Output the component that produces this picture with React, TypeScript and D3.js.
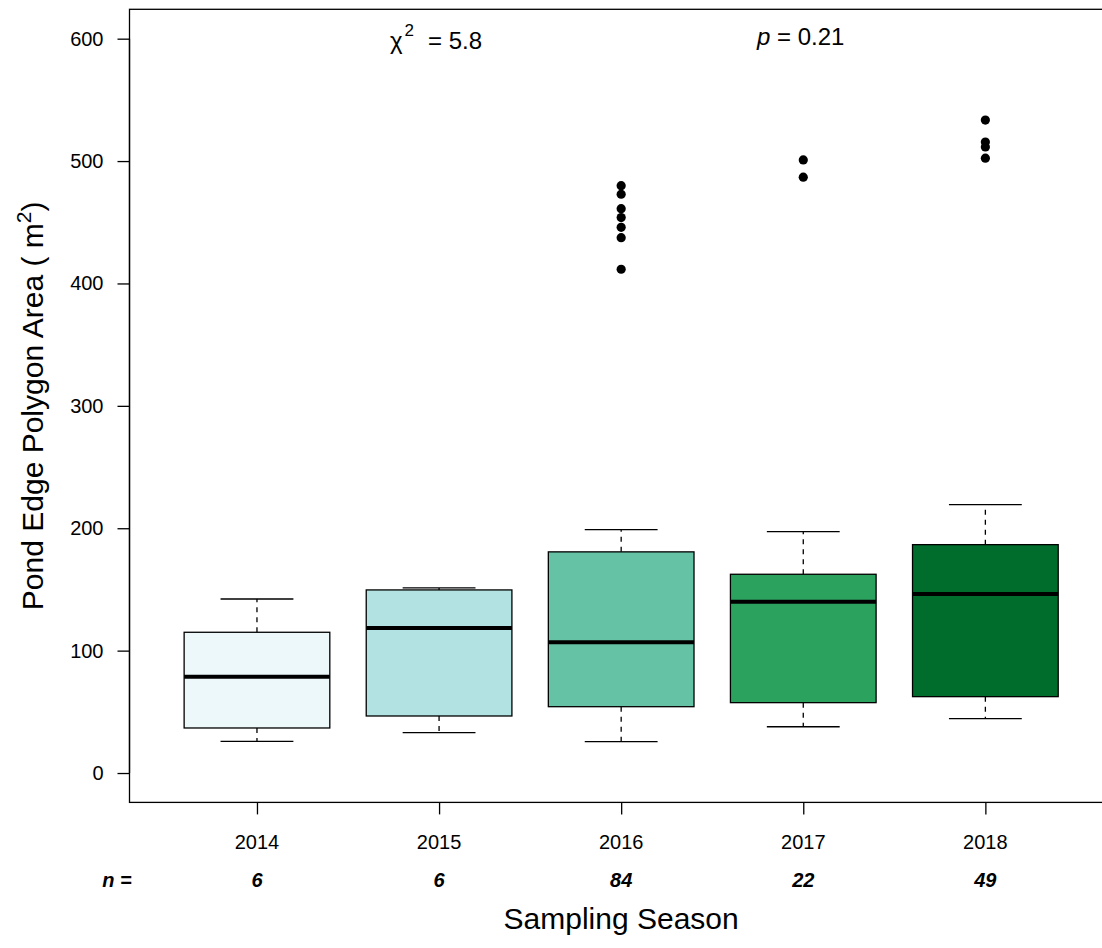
import React, { useEffect, useRef } from "react";
import * as d3 from "d3";

// Box statistics (m^2)
const years = ["2014", "2015", "2016", "2017", "2018"];
const nCounts = ["6", "6", "84", "22", "49"];
const whiskerLow = [25.9, 33.0, 25.6, 37.8, 44.4];
const q1 = [36.8, 46.6, 54.2, 57.5, 62.4];
const medians = [78.7, 118.5, 106.8, 140.0, 146.3];
const q3 = [115.0, 149.6, 180.7, 162.4, 186.6];
const whiskerHigh = [142.2, 151.2, 198.9, 197.3, 219.3];
const outliers2016 = [479.9, 472.9, 461.1, 453.8, 445.9, 437.4, 411.6];
const outliers2017 = [500.9, 486.8];
const outliers2018 = [533.5, 515.5, 511.5, 502.4];
const outliers = [[], [], outliers2016, outliers2017, outliers2018];
const boxColors = ["#edf8fb", "#b2e2e2", "#66c2a4", "#2ca25f", "#006d2c"];
const yTicks = [0, 100, 200, 300, 400, 500, 600];

const App = () => {
  const svgRef = useRef<SVGSVGElement>(null);

  useEffect(() => {
    document.body.style.margin = "0";
    const svg = d3.select(svgRef.current);
    svg.selectAll("*").remove();

    const font = "'Liberation Sans', Arial, Helvetica, sans-serif";
    const left = 129.5;
    const top = 9.3;
    const bottom = 802.4;
    const unit = 182.1; // px per group

    // R style: xlim 0.5..5.5 padded by 4%
    const x = d3.scaleLinear().domain([0.3, 5.7]).range([left, left + 5.4 * unit]);
    const y = d3.scaleLinear().domain([-24, 624]).range([bottom, top]);

    const g = svg.append("g").style("font-family", font);

    // frame
    g.append("rect")
      .attr("x", x(0.3))
      .attr("y", y(624))
      .attr("width", x(5.7) - x(0.3))
      .attr("height", y(-24) - y(624))
      .attr("fill", "none")
      .attr("stroke", "black")
      .attr("stroke-width", 1.3);

    // y axis
    const yAxis = g.append("g").attr("transform", `translate(${left},0)`)
      .call(d3.axisLeft(y).tickValues(yTicks).tickSize(12).tickPadding(14).tickFormat(d3.format("d")));
    yAxis.select(".domain").attr("stroke", "black").attr("stroke-width", 1.3)
      .attr("d", `M0,${y(0)}V${y(600)}`);
    yAxis.selectAll("line").attr("stroke", "black").attr("stroke-width", 1.3);
    yAxis.selectAll("text").style("font-size", "20px").style("font-family", font).attr("fill", "black");

    // x axis
    const xAxis = g.append("g").attr("transform", `translate(0,${bottom})`)
      .call(d3.axisBottom(x).tickValues([1, 2, 3, 4, 5]).tickSize(12).tickFormat(() => ""));
    xAxis.select(".domain").remove();
    xAxis.selectAll("line").attr("stroke", "black").attr("stroke-width", 1.3);

    years.forEach((yr, i) => {
      g.append("text")
        .attr("x", x(i + 1))
        .attr("y", 849)
        .attr("text-anchor", "middle")
        .style("font-size", "20px")
        .text(yr);
      g.append("text")
        .attr("x", x(i + 1))
        .attr("y", 887)
        .attr("text-anchor", "middle")
        .style("font-size", "20px")
        .style("font-weight", "bold")
        .style("font-style", "italic")
        .text(nCounts[i]);
    });

    g.append("text")
      .attr("x", 117)
      .attr("y", 887)
      .attr("text-anchor", "middle")
      .style("font-size", "20px")
      .style("font-weight", "bold")
      .style("font-style", "italic")
      .text("n =");

    // boxes
    const boxHalf = 0.4;
    const capHalf = 0.2;
    years.forEach((_, i) => {
      const c = i + 1;
      // whiskers (dashed)
      [[q1[i], whiskerLow[i]], [q3[i], whiskerHigh[i]]].forEach(([a, b]) => {
        g.append("line")
          .attr("x1", x(c)).attr("x2", x(c))
          .attr("y1", y(a)).attr("y2", y(b))
          .attr("stroke", "black")
          .attr("stroke-width", 1.3)
          .attr("stroke-dasharray", "5,5");
        g.append("line")
          .attr("x1", x(c - capHalf)).attr("x2", x(c + capHalf))
          .attr("y1", y(b)).attr("y2", y(b))
          .attr("stroke", "black")
          .attr("stroke-width", 1.3);
      });
      g.append("rect")
        .attr("x", x(c - boxHalf))
        .attr("y", y(q3[i]))
        .attr("width", x(c + boxHalf) - x(c - boxHalf))
        .attr("height", y(q1[i]) - y(q3[i]))
        .attr("fill", boxColors[i])
        .attr("stroke", "black")
        .attr("stroke-width", 1.3);
      g.append("line")
        .attr("x1", x(c - boxHalf)).attr("x2", x(c + boxHalf))
        .attr("y1", y(medians[i])).attr("y2", y(medians[i]))
        .attr("stroke", "black")
        .attr("stroke-width", 4);
      outliers[i].forEach((v) => {
        g.append("circle")
          .attr("cx", x(c))
          .attr("cy", y(v))
          .attr("r", 4.6)
          .attr("fill", "black");
      });
    });

    // statistics
    const chi = g.append("text").attr("x", 390).attr("y", 49).style("font-size", "24px");
    chi.append("tspan").text("χ");
    chi.append("tspan").attr("dy", -13).attr("dx", 2).style("font-size", "17px").text("2");
    chi.append("tspan").attr("x", 428).attr("y", 49).text("= 5.8");

    const p = g.append("text").attr("x", 757).attr("y", 45).style("font-size", "24px");
    p.append("tspan").style("font-style", "italic").text("p");
    p.append("tspan").text(" = 0.21");

    // axis titles
    g.append("text")
      .attr("x", x(3))
      .attr("y", 929)
      .attr("text-anchor", "middle")
      .style("font-size", "30px")
      .text("Sampling Season");

    const yl = g.append("text")
      .attr("transform", `translate(43,${(top + bottom) / 2}) rotate(-90)`)
      .attr("text-anchor", "middle")
      .style("font-size", "30px");
    yl.append("tspan").text("Pond Edge Polygon Area ( m");
    yl.append("tspan").attr("dy", -12).style("font-size", "21px").text("2");
    yl.append("tspan").attr("dy", 12).text(")");
  }, []);

  return (
    <svg
      ref={svgRef}
      width={1102}
      height={948}
      style={{ display: "block", background: "white", overflow: "hidden" }}
    />
  );
};

export default App;
